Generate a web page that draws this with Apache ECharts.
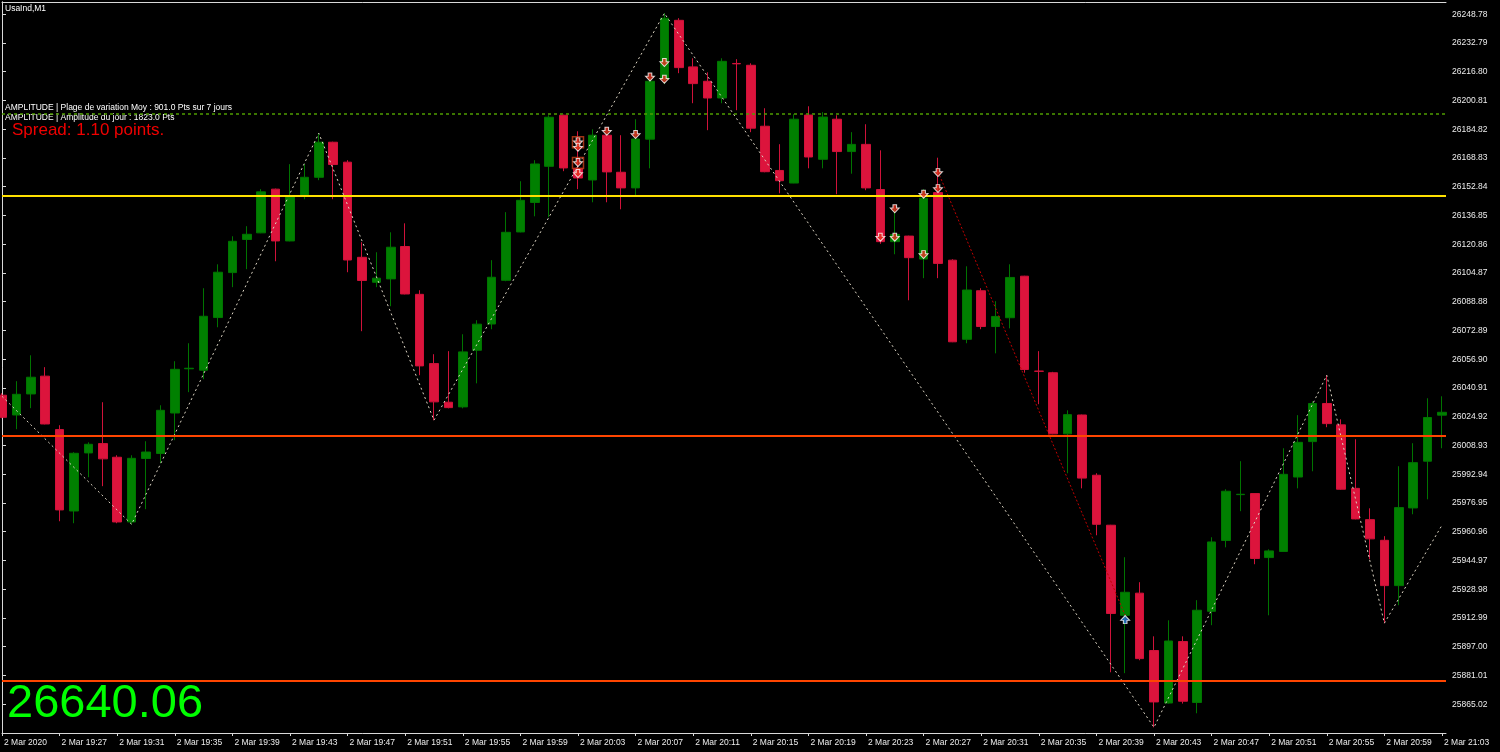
<!DOCTYPE html>
<html><head><meta charset="utf-8">
<script src="https://cdn.jsdelivr.net/npm/echarts@6/dist/echarts.min.js"></script>
<style>html,body{margin:0;padding:0;background:#000;}#c{width:1500px;height:752px;}</style>
</head><body><div id="c"></div>
<script>
// ---- data ----
const timeLabels = ['2 Mar 2020','2 Mar 19:27','2 Mar 19:31','2 Mar 19:35','2 Mar 19:39','2 Mar 19:43','2 Mar 19:47','2 Mar 19:51','2 Mar 19:55','2 Mar 19:59','2 Mar 20:03','2 Mar 20:07','2 Mar 20:11','2 Mar 20:15','2 Mar 20:19','2 Mar 20:23','2 Mar 20:27','2 Mar 20:31','2 Mar 20:35','2 Mar 20:39','2 Mar 20:43','2 Mar 20:47','2 Mar 20:51','2 Mar 20:55','2 Mar 20:59','2 Mar 21:03'];
const priceTicks = [26248.78,26232.79,26216.80,26200.81,26184.82,26168.83,26152.84,26136.85,26120.86,26104.87,26088.88,26072.89,26056.90,26040.91,26024.92,26008.93,25992.94,25976.95,25960.96,25944.97,25928.98,25912.99,25897.00,25881.01,25865.02];

const open = [
26036.9,26025.9,26037.6,26047.5,26017.8,25972.5,26004.8,26010.0,26002.4,25966.4,
26001.7,26004.5,26027.0,26051.6,26050.8,26080.1,26105.1,26123.5,26127.2,26151.5,
26122.7,26147.7,26158.1,26177.6,26166.5,26113.6,26099.7,26101.6,26119.6,26093.0,
26054.5,26033.0,26030.4,26061.9,26076.5,26100.8,26127.7,26144.1,26164.2,26192.6,
26163.1,26156.6,26181.5,26160.9,26152.2,26179.3,26212.5,26245.4,26219.5,26211.5,
26202.2,26221.4,26220.4,26186.5,26161.9,26154.9,26192.7,26168.1,26190.4,26172.4,
26176.4,26151.3,26122.3,26125.4,26112.6,26149.6,26112.0,26068.0,26095.0,26075.1,
26080.0,26103.1,26050.3,26049.4,26015.4,26025.9,25992.4,25964.6,25914.5,25926.8,
25894.9,25865.7,25899.9,25866.0,25916.7,25956.1,25981.6,25982.2,25946.6,25950.0,
25991.4,26011.1,26032.3,26020.4,25985.1,25967.7,25956.2,25931.0,25974.2,26000.2,
26025.8];
const high = [
26038.0,26044.7,26059.1,26052.5,26020.2,26005.2,26010.7,26033.0,26003.5,26003.5,
26011.3,26031.3,26055.8,26065.8,26096.4,26109.7,26125.3,26130.9,26151.5,26151.8,
26165.4,26165.4,26182.6,26177.9,26167.6,26122.0,26116.4,26127.5,26132.5,26095.3,
26059.7,26061.4,26070.8,26078.6,26112.0,26138.7,26155.9,26167.6,26192.6,26192.9,
26183.7,26184.8,26181.8,26181.5,26190.4,26213.2,26249.3,26246.6,26224.3,26216.5,
26224.3,26223.8,26221.5,26196.5,26176.5,26193.2,26197.6,26194.3,26192.6,26183.2,
26187.6,26173.1,26140.9,26125.6,26151.5,26169.0,26112.5,26108.6,26096.4,26089.2,
26109.7,26103.3,26061.4,26049.9,26028.5,26026.1,25993.5,25964.8,25946.8,25932.9,
25902.8,25911.7,25902.8,25922.9,25957.9,25984.6,26000.2,25982.4,25951.2,26007.4,
26025.8,26033.5,26048.0,26023.5,26012.4,25974.0,25958.5,25997.4,26010.2,26035.2,
26036.3];
const low = [
26024.1,26018.0,26029.7,26020.7,25966.8,25965.7,25991.3,25986.3,25965.7,25965.1,
25973.5,25999.1,26011.9,26038.6,26045.8,26074.7,26097.0,26107.0,26127.0,26111.4,
26122.5,26145.9,26156.5,26145.9,26105.3,26072.5,26097.0,26086.4,26093.0,26048.0,
26023.0,26029.6,26029.6,26043.5,26073.6,26100.3,26127.5,26136.4,26135.9,26161.5,
26151.5,26144.2,26144.2,26140.3,26148.1,26163.1,26209.9,26216.0,26199.3,26184.3,
26199.3,26195.4,26183.2,26160.9,26149.2,26154.8,26163.1,26163.1,26148.7,26160.1,
26150.9,26121.1,26115.3,26089.7,26102.0,26102.0,26066.4,26065.8,26073.6,26060.2,
26074.1,26049.4,26031.9,26015.2,25993.5,25985.1,25959.0,25882.8,25882.3,25889.5,
25852.2,25865.4,25865.4,25860.0,25909.0,25952.3,25972.4,25942.9,25914.5,25949.8,
25985.1,25994.6,26019.1,25984.3,25967.9,25945.7,25910.1,25920.1,25970.7,25979.0,
26007.4];
const close = [
26024.6,26037.4,26046.9,26020.9,25973.1,26004.6,26009.6,26001.5,25966.4,26001.8,
26005.3,26028.5,26051.3,26051.9,26080.8,26105.3,26122.5,26126.4,26150.0,26122.7,
26147.7,26158.1,26177.6,26165.2,26112.1,26100.7,26102.0,26119.2,26093.2,26053.2,
26033.2,26030.0,26061.0,26076.4,26102.5,26127.5,26145.3,26165.5,26191.5,26163.3,
26157.7,26181.5,26161.1,26152.2,26179.4,26211.5,26246.6,26219.1,26210.2,26202.2,
26222.6,26221.2,26185.4,26161.2,26156.2,26190.4,26169.4,26191.6,26172.4,26176.4,
26152.2,26122.3,26126.3,26113.4,26146.5,26110.2,26066.6,26095.4,26075.1,26080.7,
26102.4,26051.2,26050.2,26015.4,26026.1,25990.8,25965.1,25915.5,25927.3,25890.4,
25866.3,25900.2,25866.7,25917.3,25955.3,25983.5,25981.8,25946.1,25950.3,25992.9,
26010.7,26032.3,26021.1,25984.6,25968.1,25957.0,25931.0,25974.4,25999.4,26024.5,
26027.4];

const zigzagBars   = [0, 9, 22, 30, 46, 80, 92, 96, 100];
const zigzagPrices = [26036.3, 25965.1, 26182.6, 26023.0, 26249.3, 25852.2, 26048.0, 25910.1, 25964.6];
const trendBars    = [65, 78];
const trendPrices  = [26161.2, 25914.5];
const sellBars   = [40, 40, 40, 40, 42, 44, 45, 46, 46, 61, 62, 62, 64, 64, 65, 65];
const sellPrices = [26177.8, 26174.8, 26166.3, 26160.2, 26183.7, 26181.9, 26213.9, 26221.9, 26212.6, 26124.8, 26140.6, 26124.8, 26148.7, 26115.1, 26160.7, 26151.8];
const buyBars    = [78];
const buyPrices  = [25912.1];
const boxBars    = [40, 40];
const boxPrices  = [26177.6, 26166.1];
const levelPrices = [26193.3, 26148.1, 26014.1, 25878.1];
const levelNames  = ['avg range', 'upper', 'mid', 'lower'];

// ---- chart ----
const SMALL = '"Liberation Sans", Arial, sans-serif';
const step = priceTicks[0] - priceTicks[1];
const yMin = +(priceTicks[priceTicks.length - 1] - step).toFixed(2);
const candleData = open.map((o, i) => [i, o, close[i], low[i], high[i]]);
const pair = (xs, ys) => xs.map((x, i) => [x, ys[i]]);
const levelStyles = [
  {color: '#4f9d00', width: 1.5, type: [3, 3]},
  {color: '#ffe100', width: 2, type: 'solid'},
  {color: '#ff4500', width: 2, type: 'solid'},
  {color: '#ff4500', width: 2, type: 'solid'}
];

const chart = echarts.init(document.getElementById('c'));
chart.setOption({
  backgroundColor: '#000000',
  animation: false,
  grid: {left: 2, right: 54, top: 2, bottom: 19},
  xAxis: [{
    type: 'value', min: 0, max: 100.28, interval: 4,
    axisLine: {lineStyle: {color: '#d8d8d8', width: 1}},
    axisTick: {length: 3, lineStyle: {color: '#d8d8d8'}},
    splitLine: {show: false},
    axisLabel: {
      formatter: v => timeLabels[Math.round(v / 4)] || '',
      align: 'left', color: '#ececec', fontFamily: SMALL, fontSize: 8.5,
      margin: 5, padding: [0, 0, 0, 2], showMaxLabel: false
    }
  }, {
    type: 'value', position: 'top', min: 0, max: 1,
    axisLine: {show: true, lineStyle: {color: '#d8d8d8'}},
    axisTick: {show: false}, axisLabel: {show: false}, splitLine: {show: false}
  }],
  yAxis: [{
    type: 'value', position: 'right', min: yMin, max: 26255.59, interval: step,
    axisLine: {show: true, lineStyle: {color: '#d8d8d8', width: 1}},
    axisTick: {show: true, length: 4, lineStyle: {color: '#d8d8d8'}},
    splitLine: {show: false},
    axisLabel: {
      formatter: v => v.toFixed(2), color: '#ececec', fontFamily: SMALL, fontSize: 8.5,
      margin: 6, showMinLabel: false, showMaxLabel: false
    }
  }, {
    type: 'value', position: 'left', min: 0, max: 1,
    axisLine: {show: true, lineStyle: {color: '#d8d8d8'}},
    axisTick: {show: false}, axisLabel: {show: false}, splitLine: {show: false}
  }],
  series: [{
    type: 'candlestick',
    data: candleData,
    encode: {x: 0, y: [1, 2, 3, 4]},
    barWidth: 9,
    itemStyle: {color: '#008000', color0: '#dc143c', borderColor: '#007400', borderColor0: '#d0123a', borderWidth: 1},
    markLine: {
      silent: true, symbol: ['none', 'none'], animation: false,
      label: {show: false},
      data: levelPrices.map((p, i) => ({name: levelNames[i], yAxis: p, lineStyle: levelStyles[i]}))
    }
  }, {
    type: 'line', data: pair(zigzagBars, zigzagPrices), symbol: 'none',
    lineStyle: {color: '#ddd5c4', width: 1, type: [2, 3]}, z: 3
  }, {
    type: 'line', data: pair(trendBars, trendPrices), symbol: 'none',
    lineStyle: {color: '#c00000', width: 1, type: [2, 2]}, z: 3
  }, {
    type: 'scatter', data: pair(boxBars, boxPrices), symbol: 'rect', symbolSize: 11,
    itemStyle: {color: 'rgba(0,0,0,0)', borderColor: '#c8401a', borderWidth: 1.5}, z: 4
  }, {
    type: 'scatter', data: pair(sellBars, sellPrices),
    symbol: 'path://M3,0 L7,0 L7,4 L10,4 L5,10 L0,4 L3,4 Z', symbolSize: [9, 8],
    itemStyle: {color: '#e8321e', borderColor: '#ffffff', borderWidth: 1}, z: 5
  }, {
    type: 'scatter', data: pair(buyBars, buyPrices),
    symbol: 'path://M5,0 L10,6 L7,6 L7,10 L3,10 L3,6 L0,6 Z', symbolSize: [9, 8],
    itemStyle: {color: '#2a78d8', borderColor: '#ffffff', borderWidth: 1}, z: 5
  }],
  graphic: [
    {type: 'text', left: 5, top: 4, style: {text: 'UsaInd,M1', fill: '#ffffff', font: '8.5px ' + SMALL}},
    {type: 'text', left: 5, top: 103, style: {text: 'AMPLITUDE | Plage de variation Moy : 901.0 Pts sur 7 jours', fill: '#ffffff', font: '8.5px ' + SMALL}},
    {type: 'text', left: 5, top: 113, style: {text: 'AMPLITUDE | Amplitude du jour : 1823.0 Pts', fill: '#ffffff', font: '8.5px ' + SMALL}},
    {type: 'text', left: 12, top: 122, style: {text: 'Spread: 1.10 points.', fill: '#f00000', font: '17px "Liberation Sans", Arial, sans-serif'}},
    {type: 'text', left: 7, top: 681, style: {text: '26640.06', fill: '#00ff00', font: '47px "Liberation Sans", Arial, sans-serif'}}
  ]
});
</script></body></html>
